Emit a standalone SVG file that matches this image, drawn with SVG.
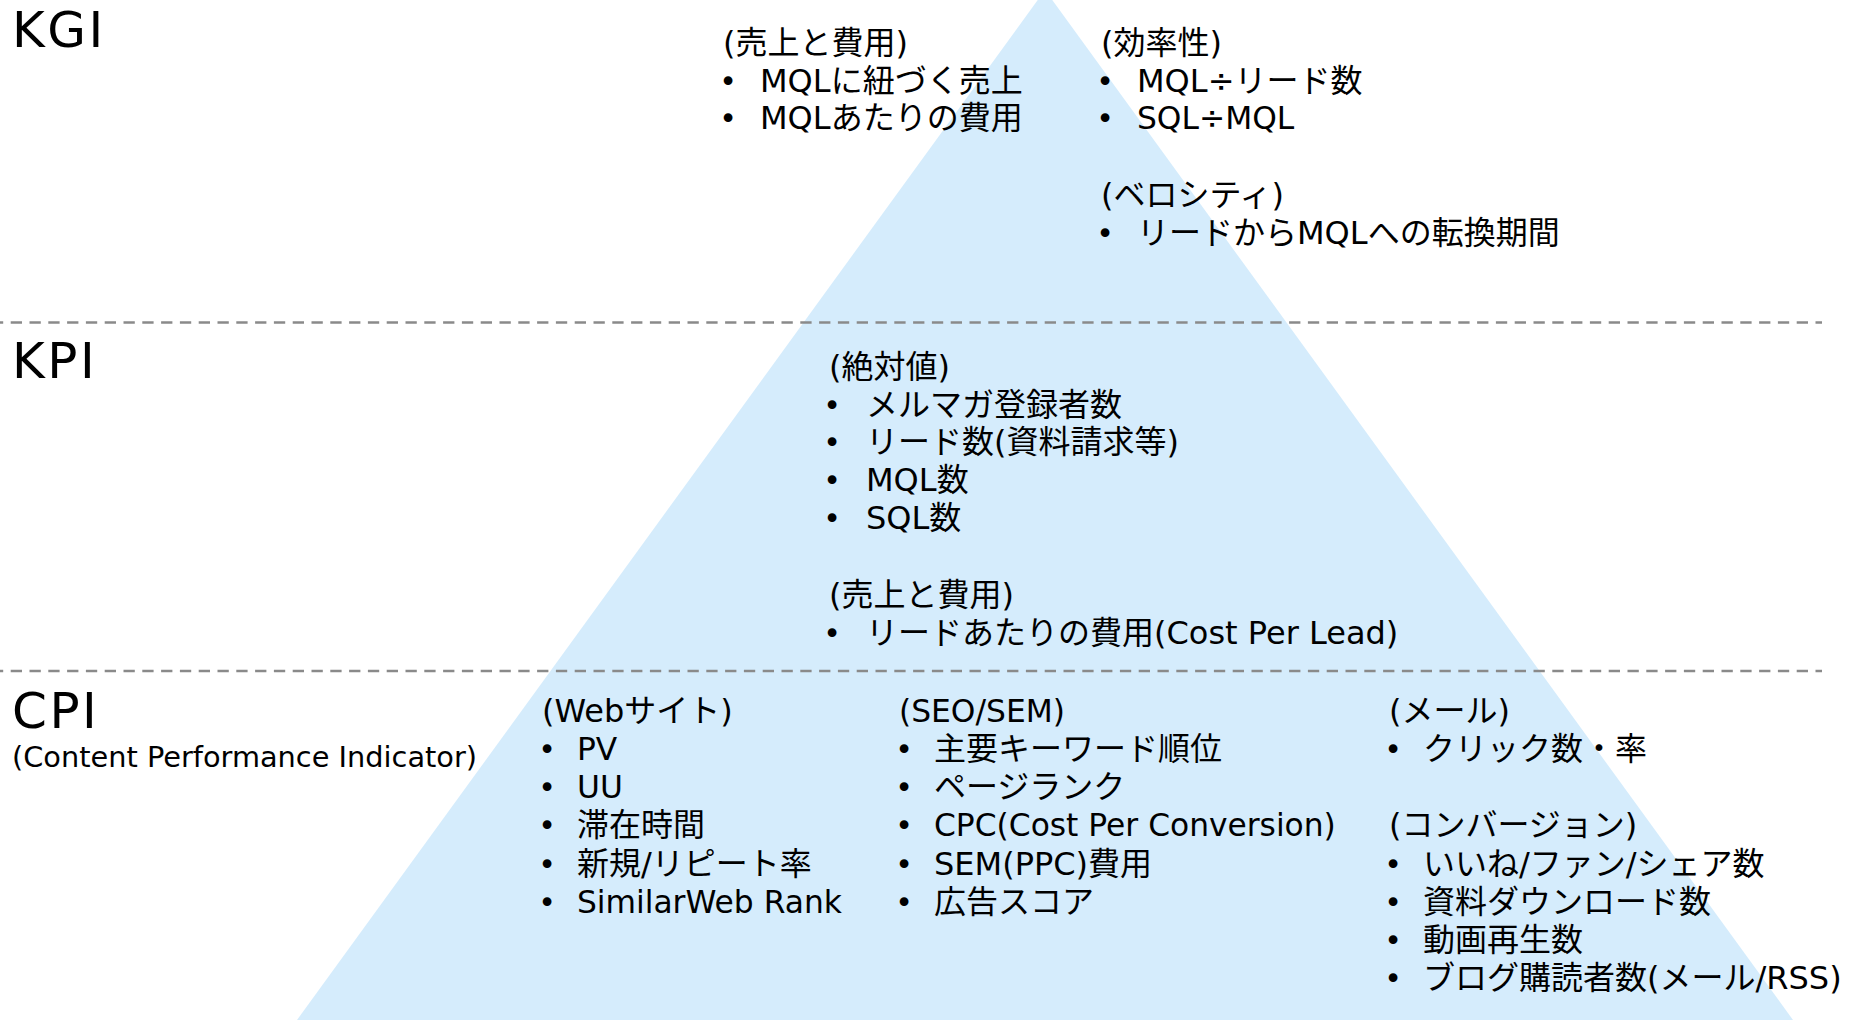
<svg xmlns="http://www.w3.org/2000/svg" width="1868" height="1021" viewBox="0 0 1868 1021">
<style>
text { font-family: "DejaVu Sans", "Noto Sans CJK JP", sans-serif; fill: #000; }
.t { font-size: 32px; }
.l { font-size: 31.3px; }
.b { text-anchor: middle; font-size: 30px; }
.h { font-size: 50px; letter-spacing: 2.5px; }
.s { font-size: 28.8px; }
.dash { stroke: #8a8a8a; stroke-width: 2.3; stroke-dasharray: 11.3 7.5; stroke-dashoffset: 8.1; fill: none; }
</style>
<rect x="0" y="0" width="1868" height="1021" fill="#fff"/>
<g id="pyramid">
<polygon points="1045,-10 1793,1020 297,1020" fill="#d5ecfc"/>
</g>
<g id="separators">
<line class="dash" x1="0" y1="322.5" x2="1822" y2="322.5"/>
<line class="dash" x1="0" y1="671" x2="1822" y2="671"/>
</g>
<g id="kgi">
<text class="h" x="12" y="47">KGI</text>
<g id="kgi-sales" class="t">
<text x="723" y="54">(売上と費用)</text>
<text class="b" x="728" y="92">•</text><text x="760" y="92">MQLに紐づく売上</text>
<text class="b" x="728" y="129">•</text><text x="760" y="129">MQLあたりの費用</text>
</g>
<g id="kgi-efficiency" class="t">
<text x="1101" y="54">(効率性)</text>
<text class="b" x="1105" y="92">•</text><text x="1137" y="92">MQL÷リード数</text>
<text class="b" x="1105" y="129">•</text><text class="l" x="1137" y="129">SQL÷MQL</text>
<text x="1101" y="206">(ベロシティ)</text>
<text class="b" x="1105" y="244">•</text><text x="1137" y="244">リードからMQLへの転換期間</text>
</g>
</g>
<g id="kpi">
<text class="h" x="12" y="378">KPI</text>
<g id="kpi-absolute" class="t">
<text x="829" y="378">(絶対値)</text>
<text class="b" x="832" y="416">•</text><text x="866" y="416">メルマガ登録者数</text>
<text class="b" x="832" y="453">•</text><text x="866" y="453">リード数(資料請求等)</text>
<text class="b" x="832" y="491">•</text><text x="866" y="491">MQL数</text>
<text class="b" x="832" y="529">•</text><text x="866" y="529">SQL数</text>
<text x="829" y="606">(売上と費用)</text>
<text class="b" x="832" y="644">•</text><text x="866" y="644">リードあたりの費用(Cost Per Lead)</text>
</g>
</g>
<g id="cpi">
<text class="h" x="12" y="728">CPI</text>
<text class="s" x="12" y="767">(Content Performance Indicator)</text>
<g id="cpi-web" class="t">
<text x="542" y="722">(Webサイト)</text>
<text class="b" x="547" y="760">•</text><text class="l" x="577" y="760">PV</text>
<text class="b" x="547" y="798">•</text><text class="l" x="577" y="798">UU</text>
<text class="b" x="547" y="836">•</text><text x="577" y="836">滞在時間</text>
<text class="b" x="547" y="875">•</text><text x="577" y="875">新規/リピート率</text>
<text class="b" x="547" y="913">•</text><text class="l" x="577" y="913">SimilarWeb Rank</text>
</g>
<g id="cpi-seo" class="t">
<text class="l" x="899" y="722">(SEO/SEM)</text>
<text class="b" x="904" y="760">•</text><text x="934" y="760">主要キーワード順位</text>
<text class="b" x="904" y="798">•</text><text x="934" y="798">ページランク</text>
<text class="b" x="904" y="836">•</text><text class="l" x="934" y="836">CPC(Cost Per Conversion)</text>
<text class="b" x="904" y="875">•</text><text x="934" y="875">SEM(PPC)費用</text>
<text class="b" x="904" y="913">•</text><text x="934" y="913">広告スコア</text>
</g>
<g id="cpi-mail" class="t">
<text x="1389" y="722">(メール)</text>
<text class="b" x="1393" y="760">•</text><text x="1423" y="760">クリック数・率</text>
<text x="1389" y="836">(コンバージョン)</text>
<text class="b" x="1393" y="875">•</text><text x="1423" y="875">いいね/ファン/シェア数</text>
<text class="b" x="1393" y="913">•</text><text x="1423" y="913">資料ダウンロード数</text>
<text class="b" x="1393" y="951">•</text><text x="1423" y="951">動画再生数</text>
<text class="b" x="1393" y="989">•</text><text x="1423" y="989">ブログ購読者数(メール/RSS)</text>
</g>
</g>
</svg>
